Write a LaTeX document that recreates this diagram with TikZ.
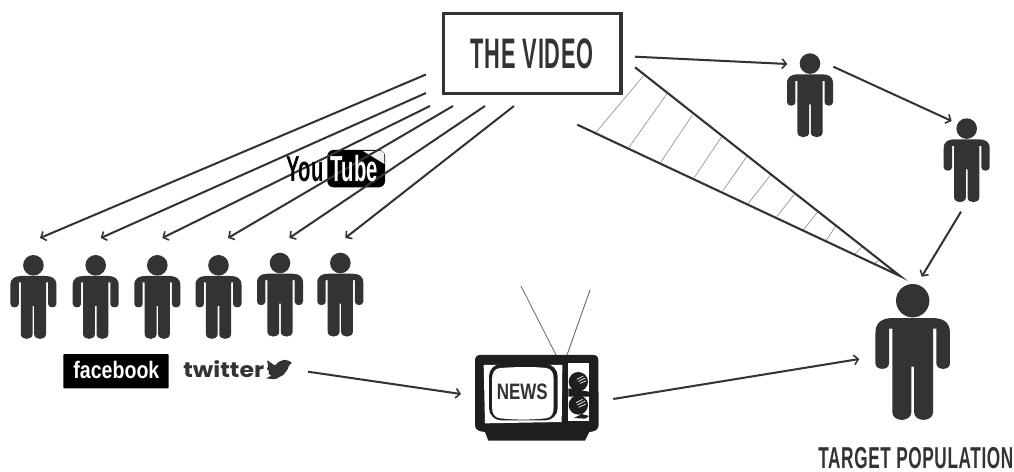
\documentclass[tikz,border=0pt]{standalone}
\usepackage{fontspec}
\usetikzlibrary{arrows.meta}
\setmainfont{Liberation Sans}
\newfontfamily\fvideo[FakeStretch=0.51,LetterSpace=2]{Liberation Sans}
\newfontfamily\ftarget[FakeStretch=0.57,LetterSpace=2]{Liberation Sans}
\newfontfamily\fyou[FakeStretch=0.56]{Liberation Sans}
\newfontfamily\fface[FakeStretch=0.82]{Liberation Sans}
\newfontfamily\fnews[FakeStretch=0.76]{Liberation Sans}
\newfontfamily\ftwit[FakeStretch=1.12]{Poppins}
\definecolor{ink}{HTML}{333333}
\definecolor{tvblack}{HTML}{1E1E1E}
\tikzset{
  x=0.02cm,y=-0.02cm,
  person/.pic={
    \fill[ink] (0,10.3) circle[radius=10.3];
    \fill[ink] (-23,30) .. controls (-23,23) and (-18,21) .. (-12,21) -- (12,21)
      .. controls (18,21) and (23,23) .. (23,30) -- (23,49)
      .. controls (23,53.5) and (14.6,53.5) .. (14.6,49) -- (14.6,27.5) -- (12.6,27.5) -- (12.6,79)
      .. controls (12.6,85.5) and (0.8,85.5) .. (0.8,79) -- (0.8,51) -- (-0.8,51) -- (-0.8,79)
      .. controls (-0.8,85.5) and (-12.6,85.5) .. (-12.6,79) -- (-12.6,27.5) -- (-14.6,27.5) -- (-14.6,49)
      .. controls (-14.6,53.5) and (-23,53.5) .. (-23,49) -- cycle;
  },
  link/.style={draw=ink,line width=1.15pt,-{Straight Barb[length=2.4pt,width=5.5pt,line width=0.9pt]}},
  wedge/.style={draw=ink,line width=1.2pt},
  hatch/.style={draw=black!45,line width=0.35pt},
  label/.style={inner sep=0pt,anchor=base west,text=ink},
}
\begin{document}
\begin{tikzpicture}
\useasboundingbox (0,0) rectangle (1014,472);
\fill[white] (0,0) rectangle (1014,472);

% named ends of the connectors
\coordinate (f1s) at (426,74.5);  \coordinate (f1e) at (40,238);
\coordinate (f2s) at (426,93);    \coordinate (f2e) at (100.7,238);
\coordinate (f3s) at (430,106);   \coordinate (f3e) at (162.3,238);
\coordinate (f4s) at (453,106);   \coordinate (f4e) at (228,238);
\coordinate (f5s) at (485,106);   \coordinate (f5e) at (289.3,238);
\coordinate (f6s) at (514,106);   \coordinate (f6e) at (345.3,238);
\coordinate (vs) at (635,56.7);   \coordinate (ve) at (787.3,64);
\coordinate (as) at (833.3,66.7); \coordinate (ae) at (951.7,121);
\coordinate (bs) at (961,211.7);  \coordinate (be) at (921.7,276.7);
\coordinate (ts) at (308,371.7);  \coordinate (te) at (461,394);
\coordinate (ns) at (613.3,399);  \coordinate (ne) at (859.3,359);
\coordinate (wu) at (635,67.3);   \coordinate (wl) at (577.3,124.7);
\coordinate (wt) at (900,276);

% video box
\node[draw=ink,line width=1.9pt,inner sep=0pt,fill=white,
      minimum width=3.555cm,minimum height=1.6cm] (video) at (532.2,53.35)
      {\fvideo\bfseries\fontsize{24.3}{24.3}\selectfont\textcolor{ink}{THE VIDEO}};

% YouTube logo, box below the lines
\fill[black,rounded corners=3.5pt] (327.3,150) rectangle (385,187.3);
\fill[black!6] (363,151) -- (381,151) .. controls (384,151) and (384.5,153) .. (384.5,164) -- cycle;

% connectors
\foreach \i in {1,...,6} \draw[link] (f\i s) -- (f\i e);
\draw[link] (vs) -- (ve);
\draw[link] (as) -- (ae);
\draw[link] (bs) -- (be);
\draw[link] (ts) -- (te);
\draw[link] (ns) -- (ne);

% hatched wedge
\begin{scope}[shift={(570,50)},scale=1/3]
\foreach \a/\b/\c/\d in {220/78/78/247,291/131/177/292,367/195/272/337,455/260/372/384,
  530/320/458/423,602/375/535/460,673/433/620/500,742/487/700/540,797/528/768/572,
  875/592/855/612,930/630/912/640}
  \draw[hatch] (\a,\b) -- (\c,\d);
\end{scope}
\draw[wedge] (wu) -- (wt) -- (wl);

% YouTube text
\node[label,text=black] (you) at (286.5,181.7) {\fyou\bfseries\fontsize{20.6}{20.6}\selectfont You};
\node[label,text=white] (tube) at (330.5,181.7) {\fyou\bfseries\fontsize{20.6}{20.6}\selectfont Tube};

% people
\pic (p1) at (33.4,255) {person};
\pic (p2) at (95.7,255) {person};
\pic (p3) at (157.3,255) {person};
\pic (p4) at (218.5,255) {person};
\pic (p5) at (280,252.7) {person};
\pic (p6) at (340.3,252.7) {person};
\pic (p7) at (810,53.3) {person};
\pic (p8) at (966.7,118.3) {person};
\pic[scale=1.62] (big) at (912.7,284) {person};

% facebook
\node[fill=black,inner sep=0pt,minimum width=105.4*0.02cm,minimum height=34.3*0.02cm,rounded corners=0.5pt] (fbbox) at (116,371.2) {};
\node[label,text=white] (fb) at (73,379) {\fface\bfseries\fontsize{13.6}{13.6}\selectfont facebook};

% twitter
\node[label] (tw) at (183,378) {\ftwit\bfseries\fontsize{12}{12}\selectfont twitter};
\begin{scope}[shift={(175,350)},scale=1/3]
\fill[ink,rounded corners=0.6pt] (276,30) -- (300,47) -- (310,36) -- (325,30) -- (335,30) -- (352,38) -- (342,46)
   -- (338,58) -- (325,75) -- (300,88) -- (272,85) -- (290,77) -- (278,70) -- (284,66) -- (274,55) -- (280,52) -- cycle;
\end{scope}

% TV
\draw[ink!75,line width=0.45pt] (521,286) -- (556,355);
\draw[ink!75,line width=0.5pt] (590,290) -- (567,355);
\begin{scope}[shift={(470,350)},scale=1/3]
\fill[tvblack] (30,15) -- (370,15) .. controls (382,15) and (385,22) .. (385,32) -- (386,225)
  .. controls (386,238) and (375,245) .. (358,246) -- (345,272) -- (55,272) -- (45,246)
  .. controls (25,245) and (15,238) .. (15,225) -- (15,32) .. controls (15,22) and (20,15) .. (30,15) -- cycle;
\fill[white] (41,45) -- (277,45) -- (275,216) -- (45,220) -- cycle;
\fill[tvblack,rounded corners=7pt] (57,42) rectangle (263,211);
\fill[white] (90,54) .. controls (150,50) and (190,50) .. (228,54) .. controls (246,56) and (251,70) .. (251,90)
  -- (251,170) .. controls (251,190) and (246,203) .. (228,205)
  .. controls (180,210) and (140,210) .. (90,205) .. controls (72,203) and (66,190) .. (66,170)
  -- (66,90) .. controls (66,70) and (72,56) .. (90,54) -- cycle;
\fill[white] (295,40) rectangle (357,213);
\fill[tvblack] (325,95) circle[radius=29];
\fill[tvblack] (325,165) circle[radius=29];
\fill[tvblack] (295,115) -- (357,125) -- (357,140) -- (295,140) -- cycle;
\fill[tvblack] (312,204) -- (335,192) -- (357,198) -- (345,206) -- cycle;
\draw[white,line width=0.4pt] (320,88) -- (340,78) (325,94) -- (346,84) (330,100) -- (349,92);
\draw[white,line width=0.4pt] (318,158) -- (338,148) (322,165) -- (345,153) (326,172) -- (348,162);
\end{scope}
\node[label] (news) at (496.5,400) {\fnews\bfseries\fontsize{12.7}{12.7}\selectfont NEWS};

% caption
\node[label] (target) at (818,468.3) {\ftarget\fontsize{17.2}{17.2}\selectfont\bfseries TARGET POPULATION};
\end{tikzpicture}
\end{document}
